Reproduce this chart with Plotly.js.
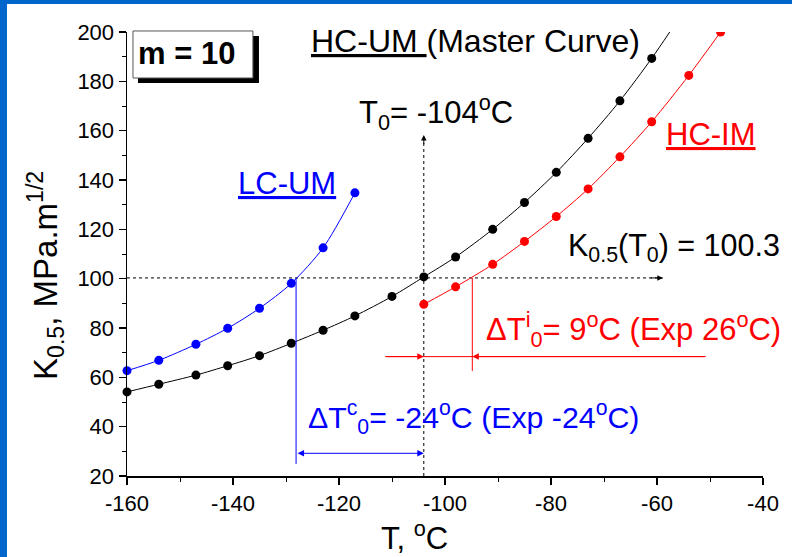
<!DOCTYPE html>
<html>
<head>
<meta charset="utf-8">
<script src="https://cdn.plot.ly/plotly-3.0.1.min.js"></script>
<style>html,body{margin:0;padding:0;background:#fff;}#chart{width:792px;height:557px;}</style>
</head>
<body>
<div id="chart"></div>
<script>
// ---- data ----
var masterT = [-160, -154, -147, -141, -135, -129, -123, -117, -110, -104, -98, -91, -85, -79, -73, -67, -61];
var masterK = [54.1, 57.2, 60.9, 64.7, 68.8, 73.8, 79.1, 84.9, 92.8, 100.7, 108.8, 120.0, 130.9, 143.1, 156.9, 172.1, 189.3];
var masterEndT = -57.6;   // curve continues (no marker) up to the top of the frame
var masterEndK = 200;

var hcimT = [-104, -98, -91, -85, -79, -73, -67, -61, -54, -48];
var hcimK = [89.6, 96.7, 105.8, 115.1, 125.2, 136.4, 149.4, 163.6, 182.4, 200.0];

var lcumT = [-160, -154, -147, -141, -135, -129, -123, -117];
var lcumK = [62.7, 66.9, 73.4, 79.9, 88.0, 98.1, 112.5, 134.8];

var T0 = -104;
var K0 = 100.3;
var shiftIM_T = -94.85;   // T0 + 9
var shiftLC_T = -128.1;   // T0 - 24

var xTicks = [-160, -140, -120, -100, -80, -60, -40];
var yTicks = [20, 40, 60, 80, 100, 120, 140, 160, 180, 200];

// ---- drawing ----
var FONT = 'Liberation Sans, Arial, sans-serif';
var BLUE = '#0000ff', RED = '#ff0000', BLACK = '#000000', BAND = '#0066cc';

var traces = [
  {x: masterT.concat([masterEndT]), y: masterK.concat([masterEndK]), mode: 'lines',
   line: {color: BLACK, width: 1, shape: 'spline', smoothing: 0.8}, hoverinfo: 'skip', showlegend: false},
  {x: masterT, y: masterK, mode: 'markers', marker: {color: BLACK, size: 9},
   cliponaxis: false, showlegend: false, name: 'HC-UM'},
  {x: hcimT, y: hcimK, mode: 'lines+markers', line: {color: RED, width: 1, shape: 'spline', smoothing: 0.8},
   marker: {color: RED, size: 9}, cliponaxis: true, showlegend: false, name: 'HC-IM'},
  {x: lcumT, y: lcumK, mode: 'lines+markers', line: {color: BLUE, width: 1, shape: 'spline', smoothing: 0.8},
   marker: {color: BLUE, size: 9}, cliponaxis: false, showlegend: false, name: 'LC-UM'}
];

var txt = function (text, x, y, color, size) {
  return {text: text, x: x, y: y, xref: 'x', yref: 'y', xanchor: 'left', yanchor: 'middle',
          showarrow: false, font: {family: FONT, size: size || 31, color: color}};
};
var arrow = function (xTip, yTip, xTail, yTail, color, extra) {
  var a = {text: '', x: xTip, y: yTip, ax: xTail, ay: yTail, xref: 'x', yref: 'y', axref: 'x', ayref: 'y',
           showarrow: true, arrowhead: 2, arrowsize: 1.3, arrowwidth: 1, arrowcolor: color};
  for (var k in extra) a[k] = extra[k];
  return a;
};

var annotations = [
  {text: '<b>m = 10</b>', x: 0.0943, y: 0.951, xref: 'paper', yref: 'paper', xanchor: 'center', yanchor: 'middle',
   showarrow: false, font: {family: FONT, size: 31, color: BLACK}},
  txt('<u>HC-UM </u>(Master Curve)', -125.6, 196.3, BLACK, 32),
  txt('T<sub>0</sub>= -104<sup>o</sup>C', -116.6, 167.3, BLACK),
  txt('<u>HC-IM</u>', -58.6, 158.6, RED),
  txt('<u>LC-UM</u>', -139.5, 138.6, BLUE),
  txt('K<sub>0.5</sub>(T<sub>0</sub>) = 100.3', -77.2, 112.5, BLACK, 30.5),
  txt('\u0394T<sup>i</sup><sub>0</sub>= 9<sup>o</sup>C (Exp 26<sup>o</sup>C)', -92.6, 79.3, RED),
  txt('\u0394T<sup>c</sup><sub>0</sub>= -24<sup>o</sup>C (Exp -24<sup>o</sup>C)', -126.3, 43.8, BLUE, 30.3),
  {text: 'T, <sup>o</sup>C', x: 0.4528, y: -0.135, xref: 'paper', yref: 'paper', xanchor: 'center', yanchor: 'middle',
   showarrow: false, font: {family: FONT, size: 31, color: BLACK}},
  {text: 'K<sub>0.5</sub>, MPa.m<sup>1/2</sup>', x: -0.128, y: 0.452, xref: 'paper', yref: 'paper',
   xanchor: 'center', yanchor: 'middle', textangle: -90, showarrow: false,
   font: {family: FONT, size: 33, color: BLACK}},
  // arrows
  arrow(-58.9, K0, -61.5, K0, BLACK, {arrowsize: 1.1}),
  arrow(T0, 158.2, T0, 154, BLACK, {arrowsize: 1.1}),
  arrow(T0, 68.4, -111.3, 68.4, RED),
  arrow(shiftIM_T, 68.4, -50.8, 68.4, RED),
  arrow(T0, 29.2, shiftLC_T, 29.2, BLUE, {arrowside: 'end+start'})
];

var shapes = [
  // decorative blue frame bands
  {type: 'rect', xref: 'paper', yref: 'paper', x0: -0.1997, x1: -0.1887, y0: -0.183, y1: 1.073, fillcolor: BAND, line: {width: 0}, layer: 'below'},
  {type: 'rect', xref: 'paper', yref: 'paper', x0: -0.1997, x1: 1.046, y0: 1.0631, y1: 1.073, fillcolor: BAND, line: {width: 0}, layer: 'below'},
  // m = 10 box with shadow
  {type: 'rect', xref: 'paper', yref: 'paper', x0: 0.0173, x1: 0.2075, y0: 0.885, y1: 0.991, fillcolor: BLACK, line: {width: 0}, layer: 'above'},
  {type: 'rect', xref: 'paper', yref: 'paper', x0: 0.0094, x1: 0.198, y0: 0.8964, y1: 1.0023, fillcolor: '#ffffff', line: {color: '#555', width: 1}, layer: 'above'},
  // dashed guides
  {type: 'line', xref: 'x', yref: 'y', x0: -160, x1: -58.9, y0: K0, y1: K0, line: {color: BLACK, width: 1, dash: 'dot'}, layer: 'below'},
  {type: 'line', xref: 'x', yref: 'y', x0: T0, x1: T0, y0: 20, y1: 158.2, line: {color: BLACK, width: 1, dash: 'dot'}, layer: 'below'},
  // red shift guide
  {type: 'line', xref: 'x', yref: 'y', x0: shiftIM_T, x1: shiftIM_T, y0: K0, y1: 62.6, line: {color: RED, width: 1}},
  {type: 'line', xref: 'x', yref: 'y', x0: -111.3, x1: -50.8, y0: 68.4, y1: 68.4, line: {color: RED, width: 1}},
  // blue shift guide
  {type: 'line', xref: 'x', yref: 'y', x0: shiftLC_T, x1: shiftLC_T, y0: K0, y1: 24.9, line: {color: BLUE, width: 1}}
];

var axisCommon = {
  showgrid: false, zeroline: false, showline: true, linecolor: BLACK, linewidth: 1.5,
  ticks: 'outside', ticklen: 7, tickwidth: 1.2, tickcolor: BLACK, mirror: false,
  tickfont: {family: FONT, size: 22, color: BLACK},
  minor: {ticks: 'outside', ticklen: 4, tickwidth: 1, tickcolor: BLACK, dtick: 10, showgrid: false}
};

var layout = {
  width: 792, height: 557,
  margin: {l: 127, r: 29, t: 32, b: 81, pad: 0},
  paper_bgcolor: '#ffffff', plot_bgcolor: '#ffffff',
  showlegend: false,
  xaxis: Object.assign({}, axisCommon, {range: [-160, -40], tickvals: xTicks, ticktext: xTicks.map(String)}),
  yaxis: Object.assign({}, axisCommon, {range: [20, 200], tickvals: yTicks, ticktext: yTicks.map(String)}),
  annotations: annotations,
  shapes: shapes
};

Plotly.newPlot('chart', traces, layout, {staticPlot: true, displayModeBar: false});
</script>
</body>
</html>
